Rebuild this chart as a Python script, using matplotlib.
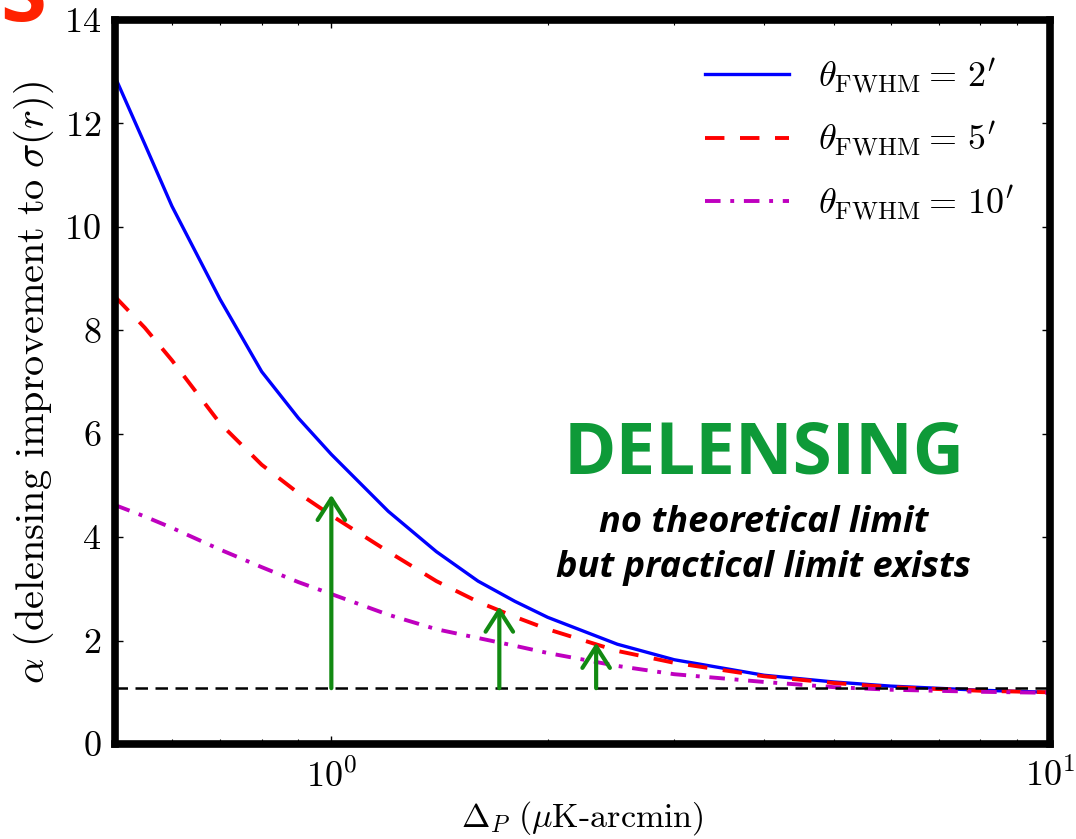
import numpy as np
from matplotlib import pyplot as plt

# ---- data ----
delta_p = [0.5, 0.55, 0.6, 0.7, 0.8, 0.9, 1.0, 1.2, 1.4, 1.6, 1.8, 2.0,
           2.5, 3.0, 4.0, 5.0, 6.0, 8.0, 10.0]
alpha_2 = [12.9, 11.6, 10.4, 8.6, 7.2, 6.3, 5.6, 4.5, 3.72, 3.15, 2.76,
           2.45, 1.93, 1.63, 1.33, 1.2, 1.12, 1.04, 1.0]
alpha_5 = [8.65, 8.05, 7.42, 6.2, 5.4, 4.85, 4.42, 3.72, 3.15, 2.75, 2.46,
           2.22, 1.8, 1.57, 1.31, 1.18, 1.1, 1.03, 1.0]
alpha_10 = [4.62, 4.4, 4.18, 3.76, 3.42, 3.13, 2.9, 2.5, 2.22, 2.05, 1.9,
            1.76, 1.51, 1.35, 1.2, 1.1, 1.05, 1.01, 0.99]
labels = [r"$\theta_{\rm FWHM} = \,2'$", r"$\theta_{\rm FWHM} = \,5'$",
          r"$\theta_{\rm FWHM} = \,10'$"]

baseline = 1.08
arrow_x = [1.0, 1.713, 2.336]
arrow_tip = [4.82, 2.66, 1.96]

plt.rcParams['font.family'] = 'serif'
plt.rcParams['font.serif'] = ['cmr10']
plt.rcParams['mathtext.fontset'] = 'cm'
plt.rcParams['axes.formatter.use_mathtext'] = True

fig = plt.figure(figsize=(10.76, 8.39), dpi=100)
ax = fig.add_axes([0.1069, 0.1132, 0.8689, 0.8630])

ax.plot(delta_p, alpha_2, color='blue', lw=2.4, label=labels[0])
ax.plot(delta_p, alpha_5, color='red', lw=2.8, dashes=(5, 4), label=labels[1])
ax.plot(delta_p, alpha_10, color='m', lw=2.8, dashes=(4, 2.5, 1, 2.5),
        label=labels[2])
ax.axhline(baseline, color='black', lw=1.8, dashes=(5, 3))

for xa, ya in zip(arrow_x, arrow_tip):
    ax.annotate('', xy=(xa, ya), xytext=(xa, baseline),
                arrowprops=dict(arrowstyle='->,head_length=0.7,head_width=0.45',
                                color='#128a12', lw=3, mutation_scale=22,
                                shrinkA=0, shrinkB=0))

ax.set_xscale('log')
ax.set_xlim(0.5, 10)
ax.set_ylim(0, 14)
ax.set_yticks(np.arange(0, 15, 2))

ax.tick_params(which='both', direction='in', top=True, right=True,
               labelsize=26, pad=10)
ax.tick_params(which='major', length=6, width=1)
ax.tick_params(which='minor', length=3.5, width=0.8)
for sp in ax.spines.values():
    sp.set_linewidth(5.5)

ax.set_xlabel(r'$\Delta_P\ (\mu\mathrm{K}$-$\mathrm{arcmin})$', fontsize=24.5,
              labelpad=4)
ax.set_ylabel(r'$\alpha\ (\mathrm{delensing\ improvement\ to\ }\sigma(r))$',
              fontsize=29, labelpad=6)

ax.legend(loc='upper right', frameon=False, fontsize=26, handlelength=2.33,
          handletextpad=0.8, labelspacing=0.66, borderaxespad=0.6)

ax.text(0.694, 0.3743, 'DELENSING', transform=ax.transAxes, ha='center',
        va='baseline', color='#0e9a38', fontsize=51, fontweight='bold',
        family='Open Sans')
ax.text(0.694, 0.2928, 'no theoretical limit', transform=ax.transAxes,
        ha='center', va='baseline', fontsize=26, fontweight='bold',
        style='italic', family='Open Sans')
ax.text(0.694, 0.2307, 'but practical limit exists', transform=ax.transAxes,
        ha='center', va='baseline', fontsize=26, fontweight='bold',
        style='italic', family='Open Sans')

# clipped red letter from the slide title in the corner
fig.text(0.0, 1.0, 'S', color='#ff2200', fontsize=60, fontweight='bold',
         family='Open Sans', ha='left', va='center')

fig.savefig('out.png', dpi=100)
